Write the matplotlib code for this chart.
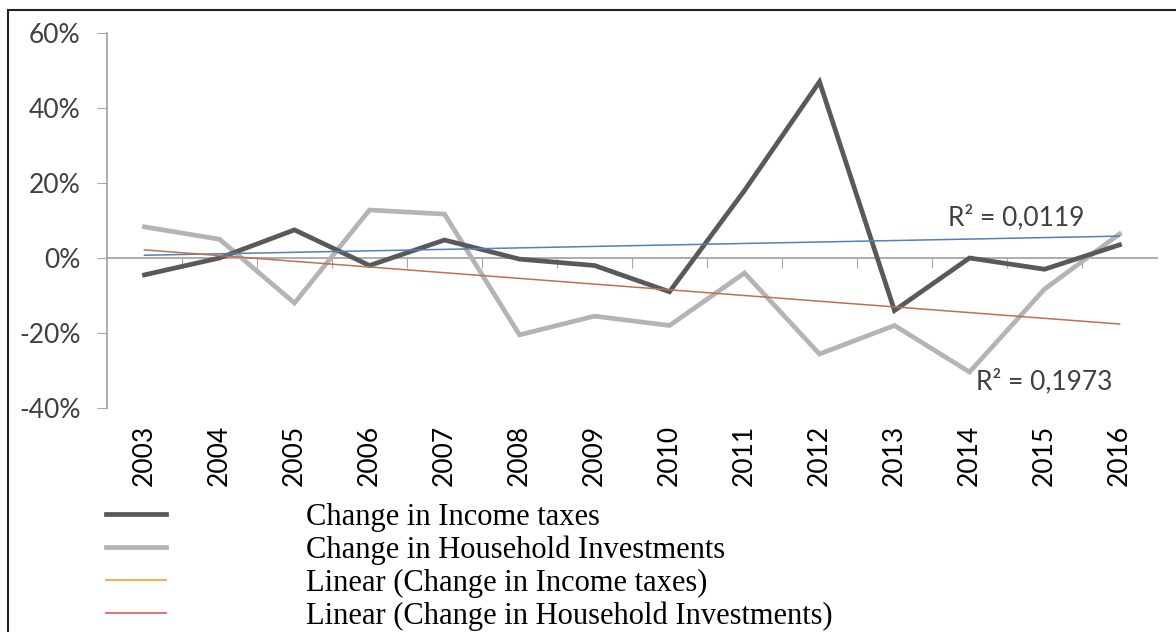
import numpy as np
import matplotlib
matplotlib.use("Agg")
import matplotlib.pyplot as plt
import matplotlib.transforms as mtransforms
from matplotlib.lines import Line2D
from matplotlib.patches import Rectangle

years = ["2003", "2004", "2005", "2006", "2007", "2008", "2009",
         "2010", "2011", "2012", "2013", "2014", "2015", "2016"]
# values in %
income_taxes = [-4.5, 0.0, 7.5, -2.0, 4.8, -0.3, -2.0, -9.0, 18.0, 47.0, -14.0, 0.0, -3.0, 3.5]
household_inv = [8.3, 5.0, -12.0, 12.8, 11.7, -20.5, -15.5, -18.0, -4.0, -25.6, -18.0, -30.4, -8.3, 6.4]
r2_labels = ["R² = 0,0119", "R² = 0,1973"]
legend_labels = ["Change in Income taxes", "Change in Household Investments",
                 "Linear (Change in Income taxes)", "Linear (Change in Household Investments)"]

W, H = 1176, 632
fig = plt.figure(figsize=(W / 100, H / 100), dpi=100)
ax = fig.add_axes([107 / W, 1 - 408 / H, (1157 - 107) / W, (408 - 33) / H])

x = np.arange(len(years))
ax.plot(x, household_inv, color="#b4b4b4", lw=3.4, solid_joinstyle="miter", zorder=3)
ax.plot(x, income_taxes, color="#595959", lw=3.4, solid_joinstyle="miter", zorder=4)

# linear trends
p1 = np.polyfit(x, income_taxes, 1)
p2 = np.polyfit(x, household_inv, 1)
ax.plot(x, np.polyval(p1, x), color="#4f81bd", lw=1.1, zorder=5)
ax.plot(x, np.polyval(p2, x), color="#c0704f", lw=1.1, zorder=5)

ax.text(11.62, 10.8, r2_labels[0], fontsize=19, color="#404040", family="Lato", ha="center", va="center")
ax.text(12.0, -32.8, r2_labels[1], fontsize=19, color="#404040", family="Lato", ha="center", va="center")

ax.set_xlim(-0.5, 13.5)
ax.set_ylim(-40, 60)
ax.set_yticks(np.arange(-40, 61, 20))
ax.set_yticklabels([f"{v}%" for v in range(-40, 61, 20)])
ax.tick_params(axis="y", length=7, color="#a6a6a6", labelsize=19, labelcolor="#404040", pad=12)
for lab in ax.get_yticklabels():
    lab.set_family("Lato")

for s in ["top", "right"]:
    ax.spines[s].set_visible(False)
ax.spines["left"].set_color("#a6a6a6")
ax.spines["left"].set_linewidth(1.3)
ax.spines["bottom"].set_position(("data", 0))
ax.spines["bottom"].set_color("#a6a6a6")
ax.spines["bottom"].set_linewidth(1.3)
ax.set_xticks(np.arange(0.5, 13.5, 1))
ax.set_xticklabels([])
ax.tick_params(axis="x", length=7, color="#a6a6a6", direction="out")

trans = mtransforms.blended_transform_factory(ax.transData, ax.transAxes)
for i, yr in enumerate(years):
    ax.text(i, -0.045, yr, transform=trans, rotation=90, ha="center", va="top",
            fontsize=19, color="#000000", family="Lato")

# legend (swatch colours as in the original)
handles = [Line2D([], [], color="#595959", lw=3.4),
           Line2D([], [], color="#b4b4b4", lw=3.4),
           Line2D([], [], color="#f7a541", lw=1.3),
           Line2D([], [], color="#e06666", lw=1.3)]
fig.legend(handles, legend_labels, loc="upper left", bbox_to_anchor=(106 / W, 1 - 503 / H),
           frameon=False, borderpad=0, borderaxespad=0, handlelength=1.96, handletextpad=4.6,
           labelspacing=0.12, prop={"family": "Liberation Serif", "size": 22})

fig.patches.append(Rectangle((8 / W, -0.1), 1.2, 1 - 10 / H + 0.1, transform=fig.transFigure,
                             fill=False, edgecolor="#222222", lw=1.5))

fig.savefig("out.png", dpi=100)
